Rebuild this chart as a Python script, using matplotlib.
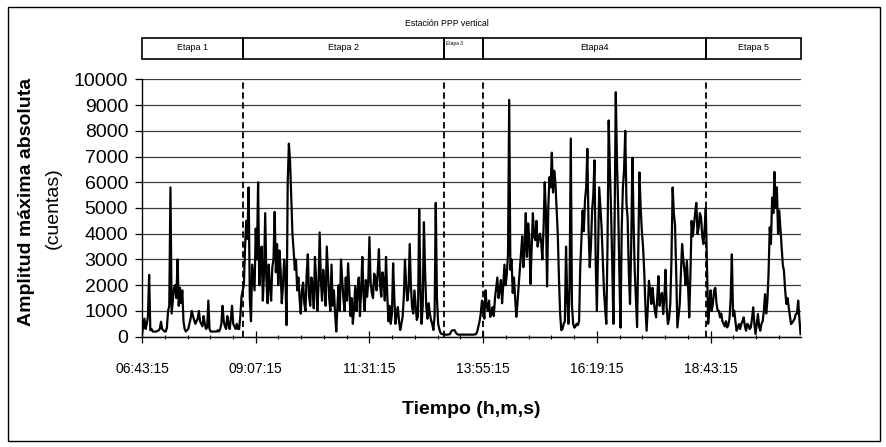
import numpy as np
from matplotlib import pyplot as plt
from matplotlib.patches import Rectangle
from matplotlib.ticker import FixedLocator, MultipleLocator

plt.rcParams['font.family'] = ['Liberation Sans', 'DejaVu Sans']

# amplitud maxima absoluta (cuentas), one value every 1.5 minutes from 06:43:15
intervalo_min = 1.5
etapa1 = [100, 400, 700, 300, 500, 800, 2400, 250, 300, 200, 200, 200, 200, 220, 250, 300,
          580, 300, 250, 200, 200, 350, 1000, 1200, 5800, 900, 1400, 1900, 2000, 1500, 3000,
          1200, 1900, 1300, 1800, 600, 300, 200, 250, 300, 500, 700, 1000, 800, 650, 500,
          600, 700, 1000, 600, 500, 400, 800, 500, 300, 350, 1400, 300, 200, 200, 200, 200,
          200, 200, 250, 200, 300, 500, 1200, 600, 400, 300, 800, 500, 300, 700, 1200, 500,
          400, 300, 500, 300, 300, 800, 1550, 1800]
etapa2 = [2000, 3500, 4500, 3800, 5800, 1500, 600, 2800, 2300, 1800, 4200, 3000, 6000, 2000,
          2700, 3500, 1400, 2500, 4800, 2200, 1300, 2800, 1950, 1400, 2700, 3000, 4850, 2500,
          3600, 2000, 3350, 2600, 1300, 2000, 3000, 2400, 450, 6000, 7500, 6800, 5400, 4000,
          3350, 2600, 3000, 1800, 2300, 1500, 900, 1800, 2100, 1300, 1000, 2400, 3200, 1600,
          1200, 2300, 2000, 1100, 3100, 2200, 1000, 2000, 4050, 2200, 1400, 2600, 2000, 1200,
          3500, 2500, 1500, 1000, 2800, 1200, 1800, 900, 200, 1200, 2000, 1000, 3000, 2200,
          1500, 1000, 2300, 1400, 2850, 1800, 800, 1500, 500, 1100, 1950, 1000, 1800, 2300,
          800, 1800, 3100, 1600, 1000, 2200, 1550, 2100, 3870, 2100, 1700, 1500, 2450, 2300,
          1800, 2500, 3400, 2000, 1550, 2500, 2200, 1400, 3100, 1700, 600, 1200, 500, 900,
          2850, 1500, 500, 900, 1150, 600, 260, 500, 770, 1500, 3000, 2000, 1400, 1800, 3600,
          2000, 1150, 900, 1800, 1200, 650, 800, 4950, 2000, 500, 1200, 4450, 2500, 1150, 700,
          1300, 900, 650, 500, 260, 800, 5200, 1500, 500, 300, 150, 100, 100, 80]
etapa3 = [80, 80, 80, 90, 100, 200, 250, 250, 250, 150, 100, 80, 80, 80, 80, 80, 80, 80, 80,
          80, 80, 80, 80, 80, 80, 90, 100, 200, 400, 600, 900, 1400]
etapa4 = [1200, 700, 1800, 1200, 1000, 1400, 770, 900, 1150, 800, 1500, 1900, 2300, 1500,
          1800, 2200, 1300, 2000, 2800, 2000, 2450, 3200, 9200, 2600, 3000, 1700, 2300, 1500,
          770, 1300, 2000, 2600, 3250, 3900, 2700, 3400, 4800, 3100, 4400, 3800, 2050, 3500,
          4800, 3900, 3750, 4500, 3500, 3800, 4000, 3700, 3000, 4200, 6000, 4800, 1950, 5000,
          6200, 5800, 7150, 5600, 6450, 6000, 5000, 4000, 2300, 900, 250, 300, 500, 600, 3500,
          1500, 500, 2000, 7700, 1200, 500, 350, 400, 500, 450, 600, 2700, 3800, 4900, 4100,
          5300, 5800, 7300, 4200, 2700, 3500, 4900, 5500, 6850, 3000, 1000, 3200, 5800, 5000,
          4250, 3000, 1800, 1100, 500, 3500, 8400, 6500, 4900, 2800, 500, 4500, 9500, 6800,
          5000, 2500, 350, 4200, 5800, 6500, 8000, 5200, 4600, 2500, 1270, 3500, 6950, 4500,
          2550, 1500, 370, 3500, 6380, 5000, 4100, 3500, 2550, 1200, 230, 1100, 2170, 1800,
          1270, 1900, 1400, 1000, 750, 1500, 2350, 1200, 1530, 1700, 880, 1500, 2600, 1100,
          490, 700, 1270, 3000, 5800, 4800, 4350, 2500, 360, 800, 1270, 2500, 3600, 3000,
          2550, 2000, 2950, 2000, 750, 2400, 4500, 3900, 4370, 4800, 5200, 4000, 4240, 4800,
          4630, 3900, 3600, 4200, 5000, 2800]
etapa5 = [500, 1200, 1800, 1000, 1300, 1800, 1900, 1300, 1010, 1000, 750, 900, 600, 500, 400,
          600, 360, 450, 700, 1500, 3200, 800, 1010, 600, 230, 350, 490, 300, 500, 600, 750,
          400, 230, 500, 450, 300, 360, 700, 1140, 500, 100, 500, 880, 400, 230, 500, 600,
          1000, 1650, 900, 1400, 2500, 4250, 3600, 5400, 4800, 6400, 5000, 5800, 4000, 4900,
          4200, 3450, 2800, 2550, 1800, 1270, 1500, 1140, 800, 490, 550, 620, 700, 880, 900,
          1400, 700, 100]

amplitud = etapa1 + etapa2 + etapa3 + etapa4 + etapa5

etapas = ["Etapa 1", "Etapa 2", "Etapa 3", "Etapa4", "Etapa 5"]
limites_min = [0, 128, 382.5, 432, 714.5, 834.6]  # minutes after 06:43:15

tick_min = [0, 144, 288, 432, 576, 720]
tick_labels = ["06:43:15", "09:07:15", "11:31:15", "13:55:15", "16:19:15", "18:43:15"]

t = np.arange(len(amplitud)) * intervalo_min

fig = plt.figure(figsize=(8.86, 4.47), dpi=100)
ax = fig.add_axes([0.1603, 0.2468, 0.7438, 0.5758])

ax.plot(t, amplitud, color="black", lw=1.6, zorder=3)

ax.set_xlim(limites_min[0], limites_min[-1])
ax.set_ylim(0, 10000)
ax.yaxis.set_major_locator(MultipleLocator(1000))
ax.grid(axis="y", color="#3a3a3a", lw=0.9)
ax.set_axisbelow(True)

ax.xaxis.set_major_locator(FixedLocator(tick_min))
ax.xaxis.set_minor_locator(MultipleLocator(28.8))
ax.set_xticklabels(tick_labels)
ax.tick_params(axis="x", which="major", direction="inout", length=8, width=0.9, labelsize=10, pad=14)
ax.tick_params(axis="x", which="minor", direction="inout", length=3.5, width=0.8)
ax.tick_params(axis="y", direction="out", length=5, width=0.9, labelsize=14, pad=5)

for s in ["top", "right"]:
    ax.spines[s].set_visible(False)
for s in ["left", "bottom"]:
    ax.spines[s].set_linewidth(1.0)

# stage boundaries
for x in limites_min[1:-1]:
    ax.axvline(x, color="black", lw=1.3, ls=(0, (3.5, 2)), zorder=4)

# stage boxes above the plot
trans = ax.get_xaxis_transform()
y0, y1 = 1.079, 1.160
for i, nombre in enumerate(etapas):
    a, b = limites_min[i], limites_min[i + 1]
    ax.add_patch(Rectangle((a, y0), b - a, y1 - y0, transform=trans,
                           fill=False, ec="black", lw=1.2, clip_on=False))
    if nombre == "Etapa 3":
        ax.text(a + 3, y1 - 0.012, nombre, transform=trans, fontsize=3.5,
                ha="left", va="top")
    else:
        ax.text((a + b) / 2, (y0 + y1) / 2 + 0.003, nombre, transform=trans,
                fontsize=6.5, ha="center", va="center")

fig.text(447 / 886, 1 - 23 / 447, "Estación PPP vertical", fontsize=6.3,
         ha="center", va="center")

fig.text(27 / 886, 1 - 202 / 447, "Amplitud máxima absoluta", fontsize=14,
         fontweight="bold", rotation=90, ha="center", va="center")
fig.text(53 / 886, 1 - 208 / 447, "(cuentas)", fontsize=14,
         rotation=90, ha="center", va="center")
fig.text(ax.get_position().x0 + ax.get_position().width / 2, 1 - 410 / 447,
         "Tiempo (h,m,s)", fontsize=14, fontweight="bold", ha="center", va="center")

# chart area frame
fig.add_artist(Rectangle((8 / 886, 1 - 441 / 447), 872 / 886, 434 / 447,
                         transform=fig.transFigure, fill=False, ec="black", lw=1.0))

fig.savefig("out.png", dpi=100)
